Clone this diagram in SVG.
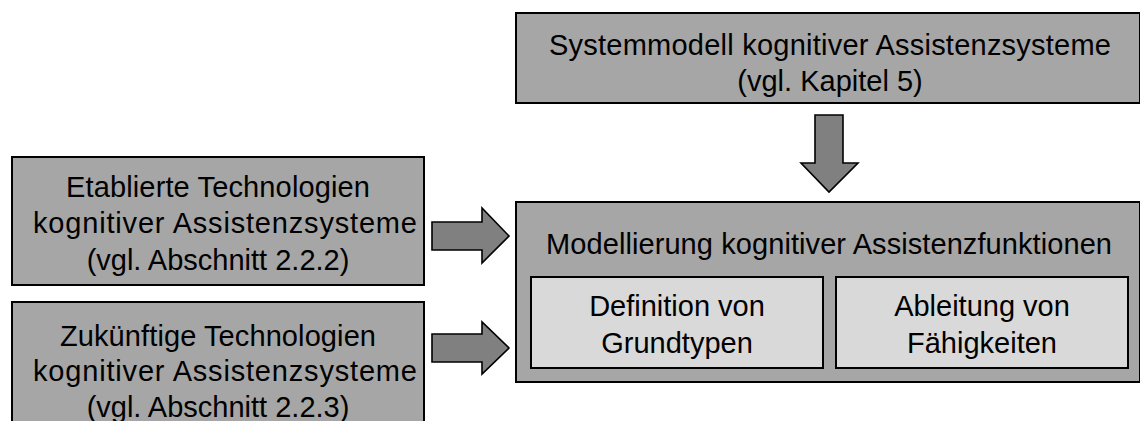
<svg xmlns="http://www.w3.org/2000/svg" width="1140" height="421" viewBox="0 0 1140 421">
  <style>
    .outer { fill: #a6a6a6; stroke: #000; stroke-width: 2; }
    .inner { fill: #d9d9d9; stroke: #000; stroke-width: 2; }
    .arrow { fill: #808080; stroke: #000; stroke-width: 1.6; stroke-linejoin: miter; }
    text { font-family: "Liberation Sans", Arial, sans-serif; font-size: 29px; fill: #000; text-anchor: middle; }
  </style>
  <rect width="1140" height="421" fill="#fff"/>

  <g id="systemmodell">
    <rect class="outer" x="516" y="13" width="624" height="90"/>
    <text x="830" y="55" textLength="562" lengthAdjust="spacing">Systemmodell kognitiver  Assistenzsysteme</text>
    <text x="830" y="91">(vgl. Kapitel 5)</text>
  </g>

  <g id="etablierte">
    <rect class="outer" x="12" y="157" width="412" height="128"/>
    <text x="218" y="197" textLength="304" lengthAdjust="spacing">Etablierte Technologien</text>
    <text x="225" y="233" textLength="384" lengthAdjust="spacing">kognitiver Assistenzsysteme</text>
    <text x="218" y="270">(vgl. Abschnitt 2.2.2)</text>
  </g>

  <g id="zukuenftige">
    <rect class="outer" x="12" y="302" width="412" height="130"/>
    <text x="218" y="346" textLength="316" lengthAdjust="spacing">Zukünftige Technologien</text>
    <text x="225" y="381" textLength="384" lengthAdjust="spacing">kognitiver Assistenzsysteme</text>
    <text x="218" y="417">(vgl. Abschnitt 2.2.3)</text>
  </g>

  <g id="modellierung">
    <rect class="outer" x="516" y="202" width="624" height="180"/>
    <text x="829" y="254" textLength="566" lengthAdjust="spacing">Modellierung kognitiver Assistenzfunktionen</text>
    <g id="grundtypen">
      <rect class="inner" x="531" y="277" width="292" height="91"/>
      <text x="677" y="316">Definition von</text>
      <text x="677" y="353">Grundtypen</text>
    </g>
    <g id="faehigkeiten">
      <rect class="inner" x="836" y="277" width="292" height="91"/>
      <text x="982" y="316">Ableitung von</text>
      <text x="982" y="353">Fähigkeiten</text>
    </g>
  </g>

  <g id="connectors">
    <polygon class="arrow" points="815,115 843,115 843,163 858,163 829,192 801,163 815,163"/>
    <polygon class="arrow" points="432,222 482,222 482,208 509,236 482,263 482,250 432,250"/>
    <polygon class="arrow" points="432,334 482,334 482,322 509,348 482,374 482,362 432,362"/>
  </g>
</svg>
